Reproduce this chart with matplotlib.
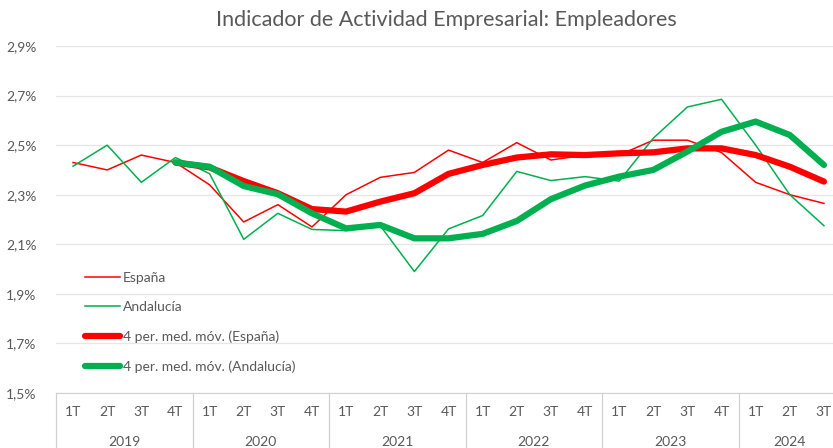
import numpy as np
import matplotlib
matplotlib.use("Agg")
from matplotlib import pyplot as plt
from matplotlib.ticker import FuncFormatter

plt.rcParams['font.family'] = ['Lato', 'DejaVu Sans']

# datos (% )
quarters = ['1T', '2T', '3T', '4T'] * 5 + ['1T', '2T', '3T']
years = ['2019', '2020', '2021', '2022', '2023', '2024']
year_len = [4, 4, 4, 4, 4, 3]

espana = [2.43, 2.40, 2.46, 2.43, 2.34, 2.19, 2.26, 2.17, 2.30, 2.37, 2.39, 2.48,
          2.43, 2.51, 2.44, 2.46, 2.46, 2.52, 2.52, 2.47, 2.35, 2.30, 2.265]
andalucia = [2.415, 2.50, 2.35, 2.45, 2.385, 2.12, 2.225, 2.16, 2.155, 2.175, 1.99, 2.162,
             2.216, 2.394, 2.357, 2.373, 2.355, 2.528, 2.654, 2.685, 2.50, 2.30, 2.175]
# medias moviles de 4 periodos (empiezan en 4T 2019)
mm_espana = [2.43, 2.41, 2.355, 2.306, 2.242, 2.232, 2.272, 2.306, 2.384, 2.42,
             2.45, 2.463, 2.46, 2.467, 2.471, 2.487, 2.487, 2.46, 2.413, 2.353]
mm_andalucia = [2.43, 2.413, 2.335, 2.302, 2.225, 2.164, 2.178, 2.124, 2.124, 2.142,
                2.194, 2.282, 2.337, 2.373, 2.40, 2.474, 2.554, 2.595, 2.541, 2.42]

gris = '#595959'
rojo = '#FF0000'
verde = '#00B050'

x = np.arange(len(quarters))
xm = x[3:]

fig = plt.figure(figsize=(8.33, 4.48), dpi=100)
ax = fig.add_axes([56/833, 1-393/448, (841-56)/833, 347/448])

ax.plot(x, espana, color=rojo, lw=1.1, label='España')
ax.plot(x, andalucia, color=verde, lw=1.1, label='Andalucía')
ax.plot(xm, mm_espana, color=rojo, lw=4.5, solid_capstyle='round', label='4 per. med. móv. (España)')
ax.plot(xm, mm_andalucia, color=verde, lw=4.5, solid_capstyle='round', label='4 per. med. móv. (Andalucía)')

ax.set_xlim(-0.5, len(quarters)-0.5)
ax.set_ylim(1.5, 2.9)
ax.set_yticks(np.arange(1.5, 2.91, 0.2))
ax.yaxis.set_major_formatter(FuncFormatter(lambda v, p: ('%.1f%%' % v).replace('.', ',')))
ax.grid(axis='y', color='#E6E6E6', lw=0.9)
ax.set_axisbelow(True)
for s in ['top', 'right', 'left']:
    ax.spines[s].set_visible(False)
ax.spines['bottom'].set_color('#D0D0D0')
ax.tick_params(axis='y', length=0, pad=14, labelsize=10, labelcolor=gris)
ax.set_xticks(x, quarters)
ax.tick_params(axis='x', length=0, pad=9, labelsize=10, labelcolor=gris)

# etiquetas de anio y separadores
tr = ax.get_xaxis_transform()
pos = -0.5
for y, n in zip(years, year_len):
    ax.plot([pos, pos], [0, -0.16], color='#D0D0D0', lw=0.9, transform=tr, clip_on=False)
    ax.text(pos + n/2, -0.14, y, transform=tr, ha='center', va='center', fontsize=10, color=gris)
    pos += n
ax.plot([pos, pos], [0, -0.16], color='#D0D0D0', lw=0.9, transform=tr, clip_on=False)

ax.legend(loc='upper left', bbox_to_anchor=(0.037, 0.35), frameon=False, fontsize=10,
          labelcolor=gris, handlelength=2.5, handletextpad=0.2, labelspacing=1.25,
          borderpad=0, borderaxespad=0)

fig.text(0.536, 0.955, 'Indicador de Actividad Empresarial: Empleadores', ha='center', va='center',
         fontsize=15.5, color=gris)

fig.savefig('out.png', dpi=100)
